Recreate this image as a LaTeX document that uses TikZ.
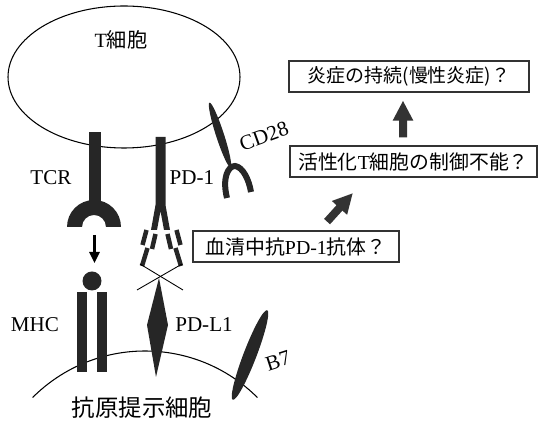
\documentclass[tikz,border=0pt]{standalone}
\usepackage{fontspec}
\setmainfont{Liberation Serif}
\newfontfamily\jp{Noto Sans CJK JP}
\usetikzlibrary{arrows.meta}

\begin{document}
\begin{tikzpicture}[
    x=0.02cm, y=-0.02cm,
    mol/.style={fill=black!85, draw=none},
    lbl/.style={inner sep=0pt, font=\fontsize{12}{14}\selectfont},
    box/.style={draw=black!80, line width=0.6pt, minimum height=0.62cm, inner sep=0pt, font=\fontsize{11.3}{13}\selectfont},
    bigarrow/.style={-{Triangle[width=0.38cm,length=0.4cm]}, line width=0.16cm, draw=black!80}
]

\useasboundingbox (0,0) rectangle (538,421);

% Cells
\draw[line width=0.6pt] (124,77) ellipse [x radius=116, y radius=71];
\draw[line width=0.6pt] (145,510) ++(225:159) arc[start angle=225, end angle=315, radius=159];
\node[lbl, font=\fontsize{11.5}{13}\selectfont] (tcell) at (121,40) {T{\jp 細胞}};
\node[lbl, font=\fontsize{13.3}{15}\selectfont] (apc) at (142,408) {\jp 抗原提示細胞};

% TCR
\fill[mol] (88.5,132) rectangle (100.5,208);
\fill[mol] (67,227) arc[start angle=180, end angle=360, radius=27] -- (106,227)
    arc[start angle=0, end angle=-180, radius=12] -- cycle;

% MHC
\fill[mol] (77,292) rectangle (87,372);
\fill[mol] (97,292) rectangle (107,372);
\fill[mol] (92,281) circle [radius=9.5];

% TCR binds MHC
\coordinate (tcrend) at (94.5,227);
\coordinate (mhctop) at (94.5,271);
\draw[line width=0.05cm, -{Triangle[width=0.2cm,length=0.22cm]}, shorten <=0.16cm, shorten >=0.16cm] (tcrend) -- (mhctop);

% PD-L1
\fill[mol] (159,278) -- (168,325) -- (156,377) -- (147,325) -- cycle;

% PD-1 and the antibody arms
\fill[mol] (155.5,137) -- (165.5,137) -- (165.5,205) -- (170,230) -- (164,230) -- (160.5,211)
    -- (157,230) -- (151,230) -- (155.5,205) -- cycle;
\foreach \xa/\ya/\xb/\yb in {146.5/230/142.5/245, 155.5/234/152/249, 147.5/248/142/266,
    176.5/230/180.5/245, 167.5/234/171/249, 175.5/248/181/266}
    \draw[line width=0.09cm, black!85] (\xa,\ya) -- (\xb,\yb);
\draw[line width=0.5pt] (140,264) -- (183,290);
\draw[line width=0.5pt] (182,264) -- (137,290);

% CD28
\fill[mol, rotate around={-72:(220,135)}] (220,135) ellipse [x radius=34, y radius=4];
\draw[line width=0.12cm, black!85] (227,198) .. controls (222,178) and (228,166) .. (235,166)
    .. controls (243,167) and (249,180) .. (251,192);

% B7
\fill[mol, rotate around={69:(250,355)}] (250,355) ellipse [x radius=48, y radius=6.5];

% Molecule names
\node[lbl] (tcrlbl) at (51,178) {TCR};
\node[lbl] (pd1lbl) at (192,178) {PD-1};
\node[lbl, rotate=20] (cd28lbl) at (264,136) {CD28};
\node[lbl] (mhclbl) at (35,325) {MHC};
\node[lbl] (pdl1lbl) at (204,325) {PD-L1};
\node[lbl, rotate=18] (b7lbl) at (278,361) {B7};

% Boxes
\node[box, minimum width=4.8cm, font=\fontsize{10.8}{13}\selectfont] (chronic) at (409,76.5) {{\jp 炎症の持続(慢性炎症)？}};
\node[box, minimum width=4.94cm] (uncontrolled) at (413.5,161.5) {{\jp 活性化}T{\jp 細胞の制御不能？}};
\node[box, minimum width=4.12cm] (antibody) at (296,246.5) {{\jp 血清中抗}PD-1{\jp 抗体？}};

% Arrows between boxes
\draw[bigarrow, shorten <=0.24cm, shorten >=0.42cm] ([xshift=0.46cm]antibody.north) -- ([xshift=-0.93cm]uncontrolled.south);
\draw[bigarrow, shorten <=0.16cm, shorten >=0.16cm] ([xshift=-0.21cm]uncontrolled.north) -- ([xshift=-0.12cm]chronic.south);

\end{tikzpicture}
\end{document}
